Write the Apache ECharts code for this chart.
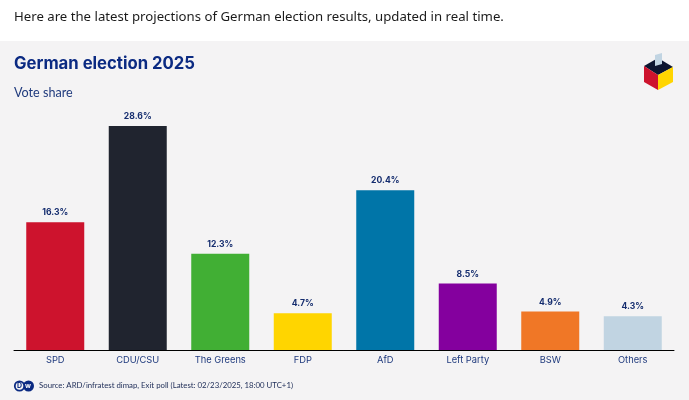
<!DOCTYPE html>
<html><head><meta charset="utf-8">
<style>html,body{margin:0;padding:0;background:#fff}#c{width:689px;height:400px}</style>
<script src="https://cdn.jsdelivr.net/npm/echarts@6/dist/echarts.min.js"></script>
</head><body><div id="c"></div>
<script>
const categories = ['SPD','CDU/CSU','The Greens','FDP','AfD','Left Party','BSW','Others'];
const voteShare = [16.3,28.6,12.3,4.7,20.4,8.5,4.9,4.3];
const barColors = ['#cd132d','#20242f','#41af34','#ffd500','#0075a8','#84009e','#f07726','#c1d4e2'];
const navy = '#0b2a82';
const chart = echarts.init(document.getElementById('c'),null,{renderer:'canvas'});
chart.setOption({
  animation:false,
  backgroundColor:'#fff',
  grid:{left:14,right:15,top:115,bottom:50,containLabel:false},
  xAxis:{type:'category',data:categories,
    axisLine:{lineStyle:{color:'#000',width:1}},axisTick:{show:false},
    axisLabel:{color:'#1f3a7d',fontFamily:'Inter',fontSize:9.3,margin:6}},
  yAxis:{type:'value',min:0,max:30,show:false,splitLine:{show:false}},
  series:[{type:'bar',barWidth:58,
    data:voteShare.map((v,i)=>({value:v,itemStyle:{color:barColors[i]}})),
    label:{show:true,position:'top',distance:5,color:'#142c6e',fontFamily:'Inter',fontWeight:'bold',fontSize:8.6,
      formatter:p=>p.value.toFixed(1)+'%'}}],
  graphic:[
    {type:'rect',z:-10,shape:{x:0,y:41,width:689,height:359},style:{fill:'#f4f3f4'}},
    {type:'text',left:14,top:11,style:{text:'Here are the latest projections of German election results, updated in real time.',font:'13.2px "Noto Sans"',fill:'#1b1b1b'}},
    {type:'text',left:14,top:55,style:{text:'German election 2025',font:'bold 16.7px Inter',fill:'#0b2a82'}},
    {type:'text',left:14,top:86,style:{text:'Vote share',font:'12.6px Lato',fill:'#1f3a7d'}},
    {type:'text',left:39,top:381,style:{text:'Source: ARD/infratest dimap, Exit poll (Latest: 02/23/2025, 18:00 UTC+1)',font:'7.8px Lato',fill:'#1b2a55'}},
    // DW logo
    {type:'circle',shape:{cx:28.5,cy:386,r:5.5},style:{fill:navy}},
    {type:'circle',shape:{cx:19.5,cy:386,r:4.7},style:{fill:'#f4f3f4',stroke:navy,lineWidth:1.8}},
    {type:'text',left:17,top:382.5,style:{text:'D',font:'bold 7px Inter',fill:navy}},
    {type:'text',left:25,top:382.5,style:{text:'w',font:'bold 7px Inter',fill:'#fff'}},
    // ballot box logo
    {type:'polygon',shape:{points:[[644,66],[658,58],[673,67],[658,75]]},style:{fill:'#0d1530'}},
    {type:'polygon',shape:{points:[[655,55],[662,53],[662,64],[655,66]]},style:{fill:'#c1d4e2'}},
    {type:'polygon',shape:{points:[[644,66],[658,75],[658,90],[644,82]]},style:{fill:'#cd132d'}},
    {type:'polygon',shape:{points:[[673,67],[658,75],[658,90],[673,82]]},style:{fill:'#ffd500'}}
  ]
});
</script></body></html>
